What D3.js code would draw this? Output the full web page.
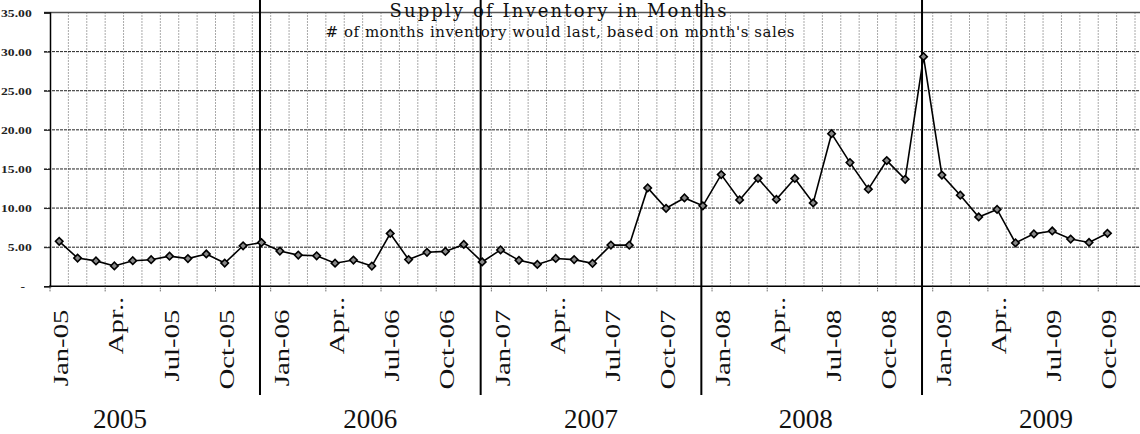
<!DOCTYPE html>
<html>
<head>
<meta charset="utf-8">
<script src="https://cdn.jsdelivr.net/npm/d3@7"></script>
<style>
  html, body { margin: 0; padding: 0; background: #fff; }
  svg { display: block; }
</style>
</head>
<body>
<div id="chart"></div>
<script>
// months supply, Jan-05 .. Oct-09
const supply = [
  5.75, 3.61, 3.25, 2.60, 3.27, 3.40, 3.85, 3.54, 4.13, 2.97, 5.18, 5.59,
  4.51, 3.99, 3.90, 2.95, 3.36, 2.58, 6.75, 3.42, 4.35, 4.46, 5.35, 3.12,
  4.65, 3.32, 2.80, 3.56, 3.41, 2.94, 5.27, 5.26, 12.58, 9.97, 11.29, 10.29,
  14.28, 11.04, 13.80, 11.11, 13.79, 10.65, 19.51, 15.81, 12.42, 16.07, 13.67, 29.35,
  14.22, 11.65, 8.86, 9.83, 5.55, 6.70, 7.07, 6.04, 5.60, 6.78
];
const tickLabels = [
  "Jan-05", "Apr..", "Jul-05", "Oct-05",
  "Jan-06", "Apr..", "Jul-06", "Oct-06",
  "Jan-07", "Apr..", "Jul-07", "Oct-07",
  "Jan-08", "Apr..", "Jul-08", "Oct-08",
  "Jan-09", "Apr..", "Jul-09", "Oct-09"
];
const years = ["2005", "2006", "2007", "2008", "2009"];
const yTicks = [0, 5, 10, 15, 20, 25, 30, 35];
const title = "Supply of Inventory in Months";
const subtitle = "# of months inventory would last, based on month's sales";

// category axis runs Jan-05 .. Dec-09 (last two months empty)
const months = d3.timeMonths(new Date(2005, 0, 1), new Date(2010, 0, 1));

const width = 1140, height = 434;
const plotLeft = 50, band = 18.39;
const plotTop = 12.5, plotBottom = 286.3;

const svg = d3.select("#chart").append("svg")
  .attr("width", width)
  .attr("height", height);

const x = d3.scaleBand()
  .domain(months)
  .range([plotLeft, plotLeft + months.length * band])
  .padding(0);
const cx = m => x(m) + x.bandwidth() / 2;

const y = d3.scaleLinear().domain([0, 35]).range([plotBottom, plotTop]);

// vertical grid, one per category boundary
svg.append("g")
  .selectAll("line")
  .data(months.slice(1))
  .join("line")
  .attr("x1", d => x(d)).attr("x2", d => x(d))
  .attr("y1", y(35)).attr("y2", y(0))
  .attr("stroke", "#555")
  .attr("stroke-width", 1)
  .attr("stroke-dasharray", "1,2");

// horizontal grid
svg.append("g")
  .selectAll("line")
  .data(yTicks.filter(d => d > 0 && d < 35))
  .join("line")
  .attr("x1", plotLeft - 6).attr("x2", width)
  .attr("y1", d => y(d)).attr("y2", d => y(d))
  .attr("stroke", "#222")
  .attr("stroke-width", 1)
  .attr("stroke-dasharray", "3,1");

svg.append("line")
  .attr("x1", plotLeft - 6).attr("x2", width)
  .attr("y1", y(35)).attr("y2", y(35))
  .attr("stroke", "#555")
  .attr("stroke-width", 1.5);

// y axis
const yAxis = svg.append("g")
  .attr("transform", `translate(${plotLeft},0)`)
  .call(d3.axisLeft(y).tickValues(yTicks).tickSize(6).tickFormat(d => d === 0 ? "-" : d3.format(".2f")(d)));
yAxis.attr("font-family", null);
yAxis.select(".domain").attr("stroke", "#000").attr("stroke-width", 1.5);
yAxis.selectAll(".tick line").attr("stroke", "#222");
yAxis.selectAll(".tick text")
  .attr("x", null).attr("dy", null)
  .attr("text-anchor", "end")
  .attr("dominant-baseline", "central")
  .attr("transform", d => `translate(${d === 0 ? -25 : -18.3},0) scale(1.24,1)`)
  .style("font-family", "'Liberation Serif', serif")
  .style("font-size", "11px")
  .style("font-weight", "bold")
  .attr("fill", "#222");

// x axis line and tick marks every quarter
svg.append("line")
  .attr("x1", plotLeft - 1).attr("x2", width)
  .attr("y1", y(0)).attr("y2", y(0))
  .attr("stroke", "#000")
  .attr("stroke-width", 1.5);

const quarterMonths = months.filter((m, i) => i % 3 === 0);
svg.append("g")
  .selectAll("line")
  .data(quarterMonths)
  .join("line")
  .attr("x1", d => x(d)).attr("x2", d => x(d))
  .attr("y1", y(0)).attr("y2", y(0) + 6)
  .attr("stroke", "#333")
  .attr("stroke-dasharray", "1,1");

// rotated month labels
const labelTop = 309.5;
svg.append("g")
  .selectAll("text")
  .data(tickLabels)
  .join("text")
  .attr("transform", (d, i) => {
    const yy = d.endsWith("..") ? labelTop - 12.8 : labelTop;
    return `translate(${cx(months[i * 3]) + 1.5},${yy}) rotate(-90) scale(1.34,1)`;
  })
  .attr("text-anchor", "end")
  .attr("dy", "0.35em")
  .style("font-family", "'Liberation Serif', serif")
  .style("font-size", "21.5px")
  .attr("fill", "#111")
  .text(d => d);

// year dividers at each December
const decs = months.filter(m => m.getMonth() === 11 && m.getFullYear() < 2009);
const divX = decs.map(m => cx(m) - 1.5);
svg.append("g")
  .selectAll("line")
  .data(divX)
  .join("line")
  .attr("x1", d => d).attr("x2", d => d)
  .attr("y1", 0).attr("y2", 395)
  .attr("stroke", "#000")
  .attr("stroke-width", 2);

// year names centred between dividers
const edges = [-20, ...divX, width + 30];
svg.append("g")
  .selectAll("text")
  .data(years)
  .join("text")
  .attr("x", (d, i) => (edges[i] + edges[i + 1]) / 2 - (i === 3 ? 6 : 0))
  .attr("y", 427.5)
  .attr("text-anchor", "middle")
  .style("font-family", "'Liberation Serif', serif")
  .style("font-size", "27px")
  .attr("fill", "#111")
  .text(d => d);

// series
const pts = supply.map((v, i) => ({ m: months[i], v: v }));
svg.append("path")
  .datum(pts)
  .attr("fill", "none")
  .attr("stroke", "#000")
  .attr("stroke-width", 1.6)
  .attr("d", d3.line().x(d => cx(d.m)).y(d => y(d.v)));

svg.append("g")
  .selectAll("path")
  .data(pts)
  .join("path")
  .attr("transform", d => `translate(${cx(d.m)},${y(d.v)}) rotate(45)`)
  .attr("d", d3.symbol(d3.symbolSquare, 28))
  .attr("fill", "#888")
  .attr("stroke", "#000")
  .attr("stroke-width", 1.6);

// titles
svg.append("text")
  .attr("x", 558).attr("y", 17)
  .attr("text-anchor", "middle")
  .attr("textLength", 337)
  .attr("lengthAdjust", "spacing")
  .style("font-family", "'DejaVu Serif', serif")
  .style("font-size", "18px")
  .attr("fill", "#111")
  .text(title);

svg.append("text")
  .attr("x", 560).attr("y", 37.3)
  .attr("text-anchor", "middle")
  .attr("textLength", 469)
  .attr("lengthAdjust", "spacing")
  .style("font-family", "'DejaVu Serif', serif")
  .style("font-size", "15px")
  .attr("fill", "#111")
  .text(subtitle);
</script>
</body>
</html>
